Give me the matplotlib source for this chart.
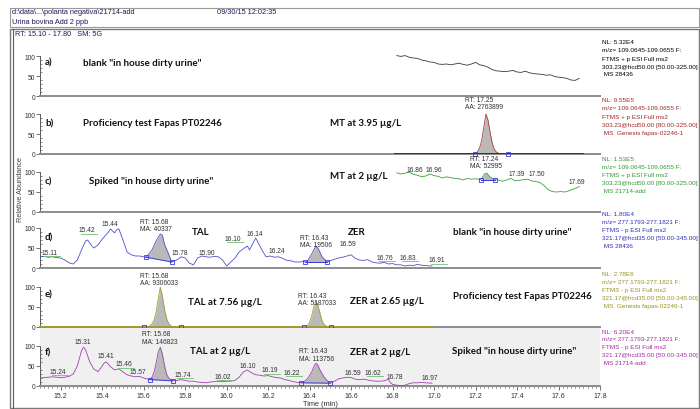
import matplotlib
matplotlib.use("Agg")
import matplotlib.pyplot as plt
import numpy as np
from matplotlib.ticker import MultipleLocator, FixedLocator
from matplotlib.patches import Rectangle
from matplotlib.lines import Line2D

# ---------------- data ----------------
a_rt = [16.82, 16.84, 16.86, 16.88, 16.90, 16.92, 16.94, 16.96, 16.98, 17.00, 17.02, 17.04, 17.06,
        17.08, 17.10, 17.12, 17.14, 17.16, 17.18, 17.20, 17.22, 17.24, 17.26, 17.28, 17.30, 17.32,
        17.34, 17.36, 17.38, 17.40, 17.42, 17.44, 17.46, 17.48, 17.50, 17.52, 17.54, 17.56, 17.58,
        17.60, 17.62, 17.64, 17.66, 17.68, 17.70]
a_ra = [101, 99, 101, 97, 95, 94, 90, 88, 85, 84, 80, 79, 80, 78, 80, 82, 79, 77, 80, 84, 78, 76,
        72, 66, 63, 62, 61, 62, 64, 60, 59, 62, 58, 56, 55, 54, 52, 53, 49, 47, 46, 44, 40, 39, 44]

b_rt = [16.81, 17.10, 17.19, 17.20, 17.21, 17.22, 17.23, 17.24, 17.25, 17.26, 17.27, 17.28, 17.29,
        17.30, 17.31, 17.33, 17.50, 17.72]
b_ra = [0, 0, 0, 2, 6, 16, 35, 68, 100, 85, 55, 28, 12, 5, 2, 0, 0, 0]

c_rt = [16.82, 16.84, 16.86, 16.88, 16.90, 16.92, 16.94, 16.96, 16.98, 17.00, 17.02, 17.04, 17.06,
        17.08, 17.10, 17.12, 17.14, 17.16, 17.18, 17.20, 17.225, 17.235, 17.245, 17.255, 17.265,
        17.28, 17.295, 17.31, 17.33, 17.35, 17.37, 17.39, 17.41, 17.43, 17.45, 17.47, 17.49, 17.51,
        17.53, 17.55, 17.57, 17.59, 17.61, 17.63, 17.65, 17.67, 17.69, 17.70]
c_ra = [98, 95, 97, 100, 94, 92, 88, 90, 95, 91, 89, 85, 88, 86, 84, 83, 80, 84, 82, 83, 81, 88,
        96, 97, 90, 84, 81, 80, 77, 80, 84, 78, 79, 81, 82, 78, 76, 74, 66, 56, 51, 50, 51, 50,
        53, 57, 61, 64]

d_rt = [15.10, 15.12, 15.14, 15.16, 15.18, 15.20, 15.22, 15.24, 15.26, 15.28, 15.30, 15.32, 15.33,
        15.35, 15.36, 15.38, 15.40, 15.42, 15.43, 15.44, 15.45, 15.46, 15.47, 15.48, 15.50, 15.52,
        15.54, 15.56, 15.58, 15.60, 15.61, 15.62, 15.64, 15.66, 15.68, 15.69, 15.70, 15.72, 15.735,
        15.76, 15.78, 15.80, 15.82, 15.84, 15.86, 15.88, 15.90, 15.92, 15.94, 15.96, 15.98, 16.00,
        16.02, 16.04, 16.06, 16.08, 16.10, 16.11, 16.13, 16.14, 16.15, 16.17, 16.19, 16.21, 16.23,
        16.25, 16.27, 16.29, 16.31, 16.33, 16.35, 16.37, 16.38, 16.39, 16.41, 16.43, 16.44, 16.46,
        16.485, 16.50, 16.52, 16.54, 16.56, 16.58, 16.60, 16.62, 16.64, 16.66, 16.68, 16.70, 16.72,
        16.74, 16.76, 16.78, 16.80, 16.82, 16.84, 16.86, 16.88, 16.90, 16.92, 16.94, 16.96, 16.99]
d_ra = [28, 29, 27, 28, 26, 25, 20, 13, 10, 20, 45, 68, 70, 55, 50, 58, 72, 84, 90, 98, 92, 88,
        96, 98, 70, 40, 33, 30, 30, 28, 27, 32, 45, 68, 85, 82, 60, 35, 15, 20, 28, 25, 12, 8, 25,
        30, 28, 27, 29, 28, 20, 5, 15, 25, 40, 48, 55, 45, 65, 75, 65, 45, 28, 30, 27, 28, 24, 19,
        18, 15, 15, 16, 15, 18, 35, 55, 50, 28, 15, 18, 22, 25, 27, 30, 33, 24, 20, 19, 21, 15, 13,
        12, 14, 10, 11, 8, 8, 5, 7, 6, 9, 7, 6, 5]

e_rt = [15.10, 15.55, 15.60, 15.62, 15.63, 15.64, 15.65, 15.66, 15.67, 15.68, 15.69, 15.70, 15.71,
        15.72, 15.73, 15.74, 15.78, 16.30, 16.375, 16.38, 16.39, 16.40, 16.41, 16.42, 16.43, 16.44,
        16.45, 16.46, 16.47, 16.48, 16.505, 16.99]
e_ra = [0, 0, 0, 1, 3, 8, 18, 38, 70, 100, 78, 45, 22, 9, 3, 1, 0, 0, 0, 1, 4, 12, 28, 50, 66, 55,
        34, 16, 6, 2, 0, 0]

f_rt = [15.10, 15.12, 15.14, 15.16, 15.18, 15.20, 15.22, 15.24, 15.26, 15.28, 15.30, 15.31, 15.32,
        15.34, 15.36, 15.38, 15.40, 15.41, 15.42, 15.44, 15.46, 15.48, 15.50, 15.52, 15.54, 15.56,
        15.58, 15.60, 15.62, 15.63, 15.64, 15.65, 15.66, 15.67, 15.68, 15.69, 15.70, 15.71, 15.72,
        15.74, 15.76, 15.78, 15.80, 15.82, 15.84, 15.86, 15.88, 15.90, 15.92, 15.94, 15.96, 15.98,
        16.00, 16.02, 16.04, 16.06, 16.08, 16.10, 16.12, 16.14, 16.16, 16.18, 16.20, 16.22, 16.24,
        16.26, 16.28, 16.30, 16.32, 16.34, 16.36, 16.37, 16.39, 16.41, 16.42, 16.43, 16.44, 16.45,
        16.47, 16.49, 16.50, 16.52, 16.54, 16.56, 16.58, 16.60, 16.62, 16.64, 16.66, 16.68, 16.70,
        16.72, 16.74, 16.76, 16.78, 16.79, 16.80, 16.82, 16.84, 16.86, 16.88, 16.90, 16.92, 16.94,
        16.96, 16.99]
f_ra = [20, 21, 22, 23, 22, 21, 22, 24, 30, 50, 88, 97, 90, 60, 42, 36, 50, 58, 60, 48, 40, 43, 35,
        28, 25, 23, 24, 20, 17, 16, 22, 35, 58, 85, 97, 80, 52, 30, 20, 13, 14, 16, 14, 12, 12, 10,
        9, 8, 10, 11, 12, 11, 12, 12, 14, 22, 35, 40, 33, 28, 27, 25, 26, 23, 21, 20, 16, 14, 11, 9,
        8, 10, 18, 35, 48, 57, 52, 40, 22, 10, 7, 12, 18, 20, 22, 21, 17, 16, 17, 15, 13, 12, 12, 13,
        17, 8, 4, 2, 1, 2, 6, 8, 8, 9, 8, 7]

# integrated peaks: (start RT, start level, end RT, end level)
b_peaks = [(17.195, 0, 17.355, 0)]
c_peaks = [(17.225, 81, 17.295, 81)]
d_peaks = [(15.61, 27, 15.735, 15), (16.38, 15, 16.485, 15)]
e_peaks = [(15.60, 0, 15.78, 0), (16.375, 0, 16.505, 0)]
f_peaks = [(15.63, 16, 15.74, 13), (16.36, 8, 16.50, 7)]

# peak labels: (text, RT position, height position, green flag)
b_labels = []
c_labels = [("16.86", 16.907, 107, False), ("16.96", 17.000, 107, False),
            ("17.39", 17.399, 95, False), ("17.50", 17.495, 95, False), ("17.69", 17.688, 77, False)]
d_labels = [("15.11", 15.148, 38, True), ("15.42", 15.327, 95, True), ("15.44", 15.437, 110, False),
            ("15.78", 15.775, 38, False), ("15.90", 15.905, 38, False), ("16.10", 16.030, 74, True),
            ("16.14", 16.136, 85, False), ("16.24", 16.242, 44, False), ("16.59", 16.584, 62, False),
            ("16.76", 16.763, 26, True), ("16.83", 16.873, 26, True), ("16.91", 17.013, 20, True)]
e_labels = []
f_labels = [("15.24", 15.187, 36, True), ("15.31", 15.307, 110, False), ("15.41", 15.418, 76, False),
            ("15.46", 15.505, 55, True), ("15.57", 15.572, 36, False), ("15.74", 15.789, 29, True),
            ("16.02", 15.982, 24, True), ("16.10", 16.102, 52, False), ("16.19", 16.208, 40, True),
            ("16.22", 16.314, 33, True), ("16.59", 16.608, 33, False), ("16.62", 16.705, 33, True),
            ("16.78", 16.810, 24, False), ("16.97", 16.980, 21, False)]

# RT / area boxes: (text, left RT, height)
b_rt_boxes = [("RT: 17.25\nAA: 2763899", 17.148, 128)]
c_rt_boxes = [("RT: 17.24\nMA: 52995", 17.172, 125)]
d_rt_boxes = [("RT: 15.68\nMA: 40337", 15.582, 108), ("RT: 16.43\nMA: 19506", 16.353, 67)]
e_rt_boxes = [("RT: 15.68\nAA: 9306033", 15.582, 120), ("RT: 16.43\nAA: 5187033", 16.343, 70)]
f_rt_boxes = [("RT: 15.68\nMA: 146823", 15.590, 121), ("RT: 16.43\nMA: 113756", 16.348, 79)]

info_a = ["NL: 5.32E4", "m/z= 109.0645-109.0655 F:", "FTMS + p ESI Full ms2",
          "303.23@hcd50.00 [50.00-325.00]", " MS 28436"]
info_b = ["NL: 9.55E5", "m/z= 109.0645-109.0655 F:", "FTMS + p ESI Full ms2",
          "303.23@hcd50.00 [80.00-325.00]", " MS  Genesis fapas-02246-1"]
info_c = ["NL: 1.53E5", "m/z= 109.0645-109.0655 F:", "FTMS + p ESI Full ms2",
          "303.23@hcd50.00 [80.00-325.00]", " MS 21714-add"]
info_d = ["NL: 1.80E4", "m/z= 277.1793-277.1821 F:", "FTMS - p ESI Full ms2",
          "321.17@hcd35.00 [50.00-345.00]", " MS 28436"]
info_e = ["NL: 2.78E6", "m/z= 277.1793-277.1821 F:", "FTMS - p ESI Full ms2",
          "321.17@hcd35.00 [50.00-345.00]", " MS  Genesis fapas-02246-1"]
info_f = ["NL: 6.20E4", "m/z= 277.1793-277.1821 F:", "FTMS - p ESI Full ms2",
          "321.17@hcd35.00 [50.00-345.00]", " MS 21714-add"]

panel_letters = ["a)", "b)", "c)", "d)", "e)", "f)"]
x_ticks = [15.2, 15.4, 15.6, 15.8, 16.0, 16.2, 16.4, 16.6, 16.8, 17.0, 17.2, 17.4, 17.6, 17.8]

# ---------------- layout ----------------
W, H = 700, 410
fig = plt.figure(figsize=(7, 4.1), dpi=100)
fig.patch.set_facecolor("white")

SMALL = ["Liberation Sans", "DejaVu Sans"]
BOLD = ["Lato", "DejaVu Sans"]


def fx(x):
    return x / W


def fy(y):
    return 1 - y / H


def ftext(x, y, s, **kw):
    fig.text(fx(x), fy(y), s, **kw)


# frames
fig.add_artist(Rectangle((fx(10), fy(28)), fx(689), 19 / H, transform=fig.transFigure,
                         fill=False, ec="#9a9a9a", lw=0.8))
fig.add_artist(Rectangle((fx(10), fy(409)), fx(689), 379 / H, transform=fig.transFigure,
                         fill=False, ec="#7a7a7a", lw=1.0))
fig.add_artist(Line2D([fx(12.5), fx(12.5)], [fy(30), fy(410)], transform=fig.transFigure,
                      color="#5a5a5a", lw=0.8))

ftext(12, 13, r"d:\data\...\polanta negativa\21714-add", fontsize=5.3, family=SMALL,
      color="#1a1a5a", va="center")
ftext(217, 13, "09/30/15 12:02:35", fontsize=5.3, family=SMALL, color="#1a1a5a", va="center")
ftext(12, 22, "Urina bovina Add 2 ppb", fontsize=5.3, family=SMALL, color="#1a1a5a", va="center")
ftext(15, 35, "RT: 15.10 - 17.80   SM: 5G", fontsize=5.3, family=SMALL, color="#1a1a5a",
      va="center")
ftext(20, 190, "Relative Abundance", fontsize=5.3, family=SMALL, color="#404040",
      rotation=90, ha="center", va="center")
ftext(320, 405, "Time (min)", fontsize=5.3, family=SMALL, color="#303030", ha="center",
      va="center")

baselines = [97, 155, 213, 269, 328, 387]
PANEL_H = 58
X0, X1 = 40, 600
YTOP = 100 * PANEL_H / 40.0

panels = [
    (a_rt, a_ra, "#3a3a3a", "#000000", [], [], [], info_a),
    (b_rt, b_ra, "#b03a3a", "#a02828", b_peaks, b_labels, b_rt_boxes, info_b),
    (c_rt, c_ra, "#3aa03a", "#2f9a2f", c_peaks, c_labels, c_rt_boxes, info_c),
    (d_rt, d_ra, "#5050c8", "#3030b0", d_peaks, d_labels, d_rt_boxes, info_d),
    (e_rt, e_ra, "#a8a030", "#9a9420", e_peaks, e_labels, e_rt_boxes, info_e),
    (f_rt, f_ra, "#a040b0", "#a030a0", f_peaks, f_labels, f_rt_boxes, info_f),
]

axes = []
for i, (rt, ra, lc, tc, peaks, labels, boxes, info) in enumerate(panels):
    B = baselines[i]
    ax = fig.add_axes([fx(X0), fy(B), (X1 - X0) / W, PANEL_H / H])
    axes.append(ax)
    ax.set_xlim(15.10, 17.80)
    ax.set_ylim(0, YTOP)
    if i == 5:
        ax.set_facecolor("#f0f0f0")
    else:
        ax.set_facecolor("none")
    for s in ["top", "right"]:
        ax.spines[s].set_visible(False)
    ax.spines["bottom"].set_color("#8c8c8c")
    ax.spines["bottom"].set_linewidth(1.4)
    ax.spines["left"].set_color("#5a5a5a")
    ax.spines["left"].set_linewidth(0.7)
    ax.spines["left"].set_bounds(0, 100)
    ax.yaxis.set_major_locator(FixedLocator([0, 50, 100]))
    ax.yaxis.set_minor_locator(FixedLocator([10, 20, 30, 40, 60, 70, 80, 90]))
    ax.tick_params(axis="y", which="major", length=3, width=0.6, color="#5a5a5a",
                   labelsize=4.8, pad=0.5, labelcolor="#303030")
    ax.tick_params(axis="y", which="minor", length=1.5, width=0.5, color="#5a5a5a",
                   direction="in")
    for lab in ax.get_yticklabels():
        lab.set_family(SMALL)
    if i == 5:
        ax.xaxis.set_major_locator(FixedLocator(x_ticks))
        ax.xaxis.set_minor_locator(MultipleLocator(0.02))
        ax.set_xticklabels([f"{t:.1f}" for t in x_ticks], family=SMALL)
        ax.tick_params(axis="x", which="major", length=3, width=0.6, color="#5a5a5a",
                       labelsize=5, pad=1.5, labelcolor="#303030")
        ax.tick_params(axis="x", which="minor", length=1.5, width=0.5, color="#5a5a5a")
    else:
        ax.tick_params(axis="x", which="both", bottom=False, labelbottom=False)

    rt_a = np.array(rt)
    ra_a = np.array(ra)
    # peak fills
    for (s0, l0, s1, l1) in peaks:
        m = (rt_a >= s0) & (rt_a <= s1)
        xs = np.concatenate([[s0], rt_a[m], [s1]])
        ys = np.concatenate([[l0], ra_a[m], [l1]])
        base = l0 + (l1 - l0) * (xs - s0) / (s1 - s0)
        ys = np.maximum(ys, base)
        ax.fill_between(xs, base, ys, color="#b9b9b9", lw=0, zorder=2)
    if i == 1:
        ax.plot(rt_a, ra_a, color="#b03a3a", lw=0.6, zorder=3)
        ax.plot([b_rt[0], b_rt[-1]], [0, 0], color="#7a1010", lw=1.3, zorder=3)
    elif i == 4:
        ax.plot(rt_a, ra_a, color=lc, lw=0.6, zorder=3)
        ax.plot([e_rt[0], e_rt[-1]], [0, 0], color=lc, lw=1.3, zorder=3)
    else:
        ax.plot(rt_a, ra_a, color=lc, lw=0.6, zorder=3)
    for (s0, l0, s1, l1) in peaks:
        ax.plot([s0, s1], [l0, l1], color="#3a3ad8", lw=0.7, zorder=4)
        ax.plot([s0, s1], [l0, l1], ls="none", marker="s", ms=2.6, mfc="none",
                mec="#3a3ad8", mew=0.6, zorder=5, clip_on=False)
    for (txt, x, y, flag) in labels:
        ax.text(x, y, txt, fontsize=4.8, family=SMALL, color="#303030", ha="center",
                va="center", zorder=6)
        if flag:
            ax.plot([x - 0.03, x + 0.05], [y - 9, y - 9], color="#70c070", lw=0.6, zorder=3)
    for (txt, x, y) in boxes:
        ax.text(x, y, txt, fontsize=4.8, family=SMALL, color="#303030", ha="left",
                va="center", linespacing=1.05, zorder=6)
    # info block
    y0 = [43, 101, 160, 215, 275, 332][i]
    for k, line in enumerate(info):
        ftext(602, y0 + 8 * k, line, fontsize=4.55, family=SMALL, color=tc, va="center")
    # panel letter
    ftext(45, [63, 124, 182, 238, 295, 353][i], panel_letters[i], fontsize=7,
          family=BOLD, weight="bold", color="#101010", va="center")

# descriptive bold labels
desc = [
    (83, 63, 'blank "in house dirty urine"'),
    (83, 124, "Proficiency test Fapas PT02246"),
    (330, 124, "MT at 3.95 \u00b5g/L"),
    (89, 182, 'Spiked "in house dirty urine"'),
    (330, 177, "MT at 2 \u00b5g/L"),
    (192, 233, "TAL"),
    (348, 233, "ZER"),
    (453, 233, 'blank "in house dirty urine"'),
    (188, 303, "TAL at 7.56 \u00b5g/L"),
    (350, 302, "ZER at 2.65 \u00b5g/L"),
    (453, 297, "Proficiency test Fapas PT02246"),
    (190, 352, "TAL at 2 \u00b5g/L"),
    (350, 353, "ZER at 2 \u00b5g/L"),
    (452, 352, 'Spiked "in house dirty urine"'),
]
for (x, y, s) in desc:
    ftext(x, y, s, fontsize=7, family=BOLD, weight="bold", color="#101010", va="center")

fig.savefig("out.png", dpi=100)
